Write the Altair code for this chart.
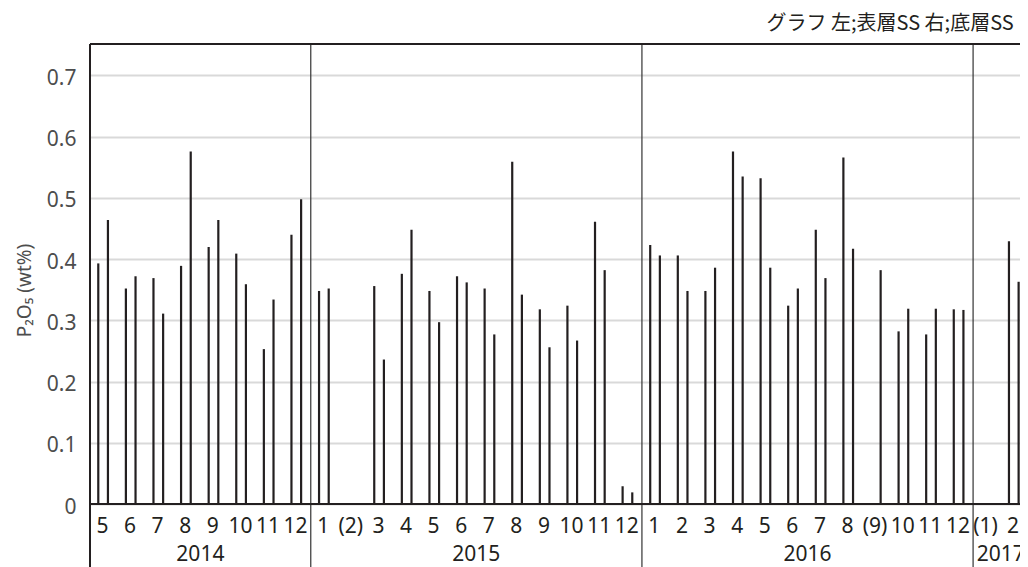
import altair as alt
import pandas as pd

# ---- data ----
month_labels = ["5", "6", "7", "8", "9", "10", "11", "12",
                "1", "(2)", "3", "4", "5", "6", "7", "8", "9", "10", "11", "12",
                "1", "2", "3", "4", "5", "6", "7", "8", "(9)", "10", "11", "12",
                "(1)", "2"]
years = [2014] * 8 + [2015] * 12 + [2016] * 12 + [2017] * 2

# left bar: surface layer SS (表層SS), right bar: bottom layer SS (底層SS)
surface = [0.393, 0.352, 0.369, 0.389, 0.420, 0.409, 0.253, 0.440,
           0.348, None, 0.356, 0.376, 0.348, 0.372, 0.352, 0.559, 0.318, 0.324, 0.461, 0.029,
           0.423, 0.406, 0.348, 0.576, 0.532, 0.324, 0.448, 0.566, None, 0.282, 0.277, 0.318,
           None, 0.429]
bottom = [0.464, 0.372, 0.311, 0.576, 0.464, 0.359, 0.334, 0.498,
          0.352, None, 0.236, 0.448, 0.297, 0.362, 0.277, 0.342, 0.256, 0.267, 0.382, 0.019,
          0.406, 0.348, 0.386, 0.535, 0.386, 0.352, 0.369, 0.417, 0.382, 0.319, 0.319, 0.317,
          None, 0.363]

y_ticks = [0, 0.1, 0.2, 0.3, 0.4, 0.5, 0.6, 0.7]

title_text = "グラフ 左;表層SS 右;底層SS"
y_title = "P₂O₅ (wt%)"

# ---- tables ----
LEFT_OFF, RIGHT_OFF, LABEL_OFF = 0.30, 0.65, 0.45
rows = []
for i, (s, b) in enumerate(zip(surface, bottom)):
    if s is not None:
        rows.append({"pos": i + LEFT_OFF, "v": s, "layer": "表層SS"})
    if b is not None:
        rows.append({"pos": i + RIGHT_OFF, "v": b, "layer": "底層SS"})
bars_df = pd.DataFrame(rows)

months_df = pd.DataFrame({"pos": [i + LABEL_OFF for i in range(len(month_labels))],
                          "lab": month_labels})

yr_rows, bound_rows = [], []
for y in sorted(set(years)):
    idx = [i for i, yy in enumerate(years) if yy == y]
    yr_rows.append({"pos": sum(i + 0.5 for i in idx) / len(idx), "lab": str(y)})
    if idx[0] > 0:
        bound_rows.append({"b": idx[0]})
years_df = pd.DataFrame(yr_rows)
bounds_df = pd.DataFrame(bound_rows)
one = pd.DataFrame({"a": [0]})

W, H = 930, 523
xscale = alt.Scale(domain=[0, 33.70], nice=False, zero=False)
yscale = alt.Scale(domain=[-0.1029, 0.7514], nice=False, zero=False)
INK = "#231f20"
FONT = "Noto Sans"

yaxis = alt.Axis(values=y_ticks,
                 labelExpr="datum.value == 0 ? '0' : format(datum.value, '.1f')",
                 grid=True, gridColor="#d9d9d9", gridWidth=1.8,
                 domain=False, ticks=False, tickSize=0, labelPadding=14,
                 labelFont=FONT, labelFontSize=21, labelColor="#4d4d4d",
                 labelOffset=3,
                 title=y_title, titleFont=FONT, titleFontSize=19,
                 titleFontWeight="normal", titleColor="#4d4d4d",
                 titleAngle=270, titleX=-66, titleY=246,
                 titleAlign="center", titleBaseline="middle")

bars = alt.Chart(bars_df).mark_rule(color=INK, strokeWidth=2.2).encode(
    x=alt.X("pos:Q", scale=xscale, axis=None),
    y=alt.Y("v:Q", scale=yscale, axis=yaxis),
    y2=alt.datum(0),
)

zero_line = alt.Chart(one).mark_rule(color=INK, strokeWidth=2).encode(
    y=alt.datum(0))
top_line = alt.Chart(one).mark_rule(color=INK, strokeWidth=2).encode(
    y=alt.value(0))
left_line = alt.Chart(one).mark_rule(color=INK, strokeWidth=2).encode(
    x=alt.value(0))

year_lines = alt.Chart(bounds_df).mark_rule(color="#333333", strokeWidth=1.2).encode(
    x=alt.X("b:Q", scale=xscale, axis=None))

month_text = alt.Chart(months_df).mark_text(
    font=FONT, fontSize=21, color=INK, baseline="middle", align="center").encode(
    x=alt.X("pos:Q", scale=xscale, axis=None),
    y=alt.value(483),
    text="lab:N")

year_text = alt.Chart(years_df).mark_text(
    font=FONT, fontSize=21, color=INK, baseline="middle", align="center").encode(
    x=alt.X("pos:Q", scale=xscale, axis=None),
    y=alt.value(511),
    text="lab:N")

chart = alt.layer(bars, year_lines, zero_line, top_line, left_line,
                  month_text, year_text).properties(
    width=W, height=H,
    padding={"left": 82, "top": 36, "right": 0, "bottom": 0},
    autosize=alt.AutoSizeParams(type="none"),
    title=alt.TitleParams(title_text, anchor="end", fontSize=20,
                          font="Noto Sans CJK JP", fontWeight="normal",
                          color=INK, offset=12, dx=-11, dy=19, baseline="alphabetic"),
    background="white",
).configure_view(stroke=None)

chart.save("out.html", embed_options={"renderer": "svg", "actions": False})
